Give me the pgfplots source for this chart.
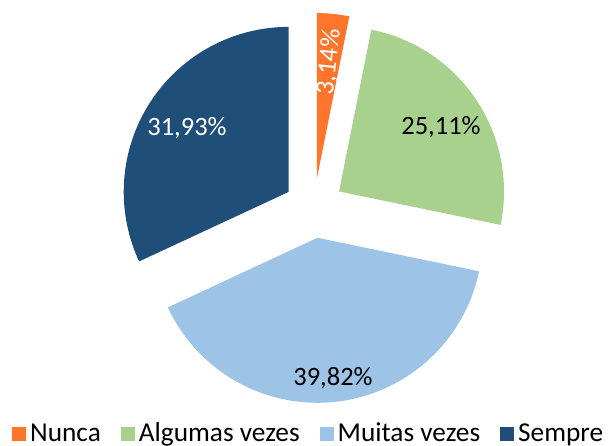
\documentclass[border=0pt]{standalone}
\usepackage{pgfplots}
\usepackage{pgfplotstable}
\pgfplotsset{compat=1.18}
\usepackage{fontspec}
\setmainfont{Carlito}
\definecolor{cNunca}{RGB}{255,117,43}
\definecolor{cAlgumas}{RGB}{169,209,142}
\definecolor{cMuitas}{RGB}{157,195,230}
\definecolor{cSempre}{RGB}{31,78,121}
\pgfplotstableread{
label value
Nunca 3.14
Algumas 25.11
Muitas 39.82
Sempre 31.93
}\piedata
\newcommand\lbl{\fontsize{26.5bp}{30bp}\selectfont}
\newcommand\leg{\fontsize{27.3bp}{31bp}\selectfont}
\begin{document}
\begin{tikzpicture}
\pgfplotstablegetelem{0}{value}\of\piedata \pgfmathsetmacro\vA{\pgfplotsretval}
\pgfplotstablegetelem{1}{value}\of\piedata \pgfmathsetmacro\vB{\pgfplotsretval}
\pgfplotstablegetelem{2}{value}\of\piedata \pgfmathsetmacro\vC{\pgfplotsretval}
\pgfplotstablegetelem{3}{value}\of\piedata \pgfmathsetmacro\vD{\pgfplotsretval}
\pgfmathsetmacro\aA{90}
\pgfmathsetmacro\aB{\aA-3.6*\vA}
\pgfmathsetmacro\aC{\aB-3.6*\vB}
\pgfmathsetmacro\aD{\aC-3.6*\vC}
\pgfmathsetmacro\aE{\aD-3.6*\vD}
\def\cx{314}\def\cy{238}\def\R{165}\def\off{30}
\pgfmathsetmacro\xA{\cx+\off*cos((\aA+\aB)/2)}\pgfmathsetmacro\yA{\cy+\off*sin((\aA+\aB)/2)}
\pgfmathsetmacro\xB{\cx+\off*cos((\aB+\aC)/2)}\pgfmathsetmacro\yB{\cy+\off*sin((\aB+\aC)/2)}
\pgfmathsetmacro\xC{\cx+\off*cos((\aC+\aD)/2)}\pgfmathsetmacro\yC{\cy+\off*sin((\aC+\aD)/2)}
\pgfmathsetmacro\xD{\cx+\off*cos((\aD+\aE)/2)}\pgfmathsetmacro\yD{\cy+\off*sin((\aD+\aE)/2)}
\begin{axis}[
  scale only axis, width=611bp, height=446bp,
  xmin=0, xmax=611, ymin=0, ymax=446,
  hide axis, clip=false, at={(0,0)}, anchor=south west,
  legend columns=-1,
  legend image code/.code={\fill[#1] (0bp,0bp) rectangle (14bp,14bp);},
  legend style={draw=none, fill=none, inner sep=0pt, at={(axis cs:12,3)}, anchor=south west,
    font=\leg, nodes={inner sep=0pt}, cells={anchor=base west},
    /tikz/every odd column/.append style={column sep=4bp},
    /tikz/every even column/.append style={column sep=20bp}},
]
\addplot[draw=none, fill=none, forget plot] coordinates {(0,0) (611,446)};
\addplot[draw=none, fill=cNunca, domain=\aB:\aA, samples=20, variable=\t]
  ({\xA+\R*cos(\t)},{\yA+\R*sin(\t)}) -- (axis cs:\xA,\yA) -- cycle;
\addlegendentry{Nunca}
\addplot[draw=none, fill=cAlgumas, domain=\aC:\aB, samples=60, variable=\t]
  ({\xB+\R*cos(\t)},{\yB+\R*sin(\t)}) -- (axis cs:\xB,\yB) -- cycle;
\addlegendentry{Algumas vezes}
\addplot[draw=none, fill=cMuitas, domain=\aD:\aC, samples=80, variable=\t]
  ({\xC+\R*cos(\t)},{\yC+\R*sin(\t)}) -- (axis cs:\xC,\yC) -- cycle;
\addlegendentry{Muitas vezes}
\addplot[draw=none, fill=cSempre, domain=\aE:\aD, samples=70, variable=\t]
  ({\xD+\R*cos(\t)},{\yD+\R*sin(\t)}) -- (axis cs:\xD,\yD) -- cycle;
\addlegendentry{Sempre}
\node[white, font=\lbl] at (axis cs:187,318) {31,93\%};
\node[black, font=\lbl] at (axis cs:441,319) {25,11\%};
\node[black, font=\lbl] at (axis cs:333,68) {39,82\%};
\node[white, font=\lbl, rotate=84] at (axis cs:329,384) {3,14\%};
\end{axis}
\end{tikzpicture}
\end{document}
